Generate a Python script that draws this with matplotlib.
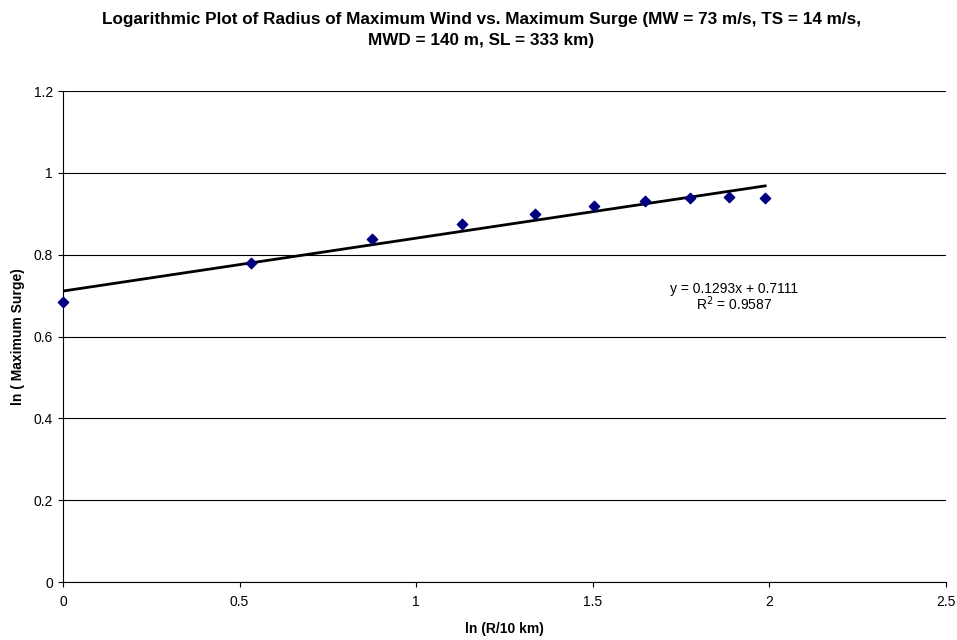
import matplotlib
matplotlib.use("Agg")
import matplotlib.pyplot as plt

plt.rcParams['font.family'] = ['Liberation Sans', 'DejaVu Sans']

# ln(R/10 km) and ln(maximum surge)
ln_r = [0.0, 0.531, 0.875, 1.131, 1.335, 1.504, 1.649, 1.775, 1.887, 1.988]
ln_surge = [0.685, 0.780, 0.838, 0.874, 0.899, 0.919, 0.931, 0.939, 0.940, 0.938]

# linear trend fit
slope = 0.1293
intercept = 0.7111
r_squared = 0.9587

fig = plt.figure(figsize=(9.57, 6.4), dpi=100)
ax = fig.add_axes([0.0658, 0.0906, 0.9227, 0.7672])

ax.set_xlim(0, 2.5)
ax.set_ylim(0, 1.2)
ax.set_xticks([0, 0.5, 1, 1.5, 2, 2.5])
ax.set_xticklabels(['0', '0.5', '1', '1.5', '2', '2.5'])
ax.set_yticks([0, 0.2, 0.4, 0.6, 0.8, 1, 1.2])
ax.set_yticklabels(['0', '0.2', '0.4', '0.6', '0.8', '1', '1.2'])
ax.yaxis.grid(True, color='black', linewidth=0.8)
ax.set_axisbelow(True)
for side in ['top', 'right']:
    ax.spines[side].set_visible(False)
ax.spines['left'].set_linewidth(0.8)
ax.spines['bottom'].set_linewidth(0.8)
ax.tick_params(axis='both', labelsize=10, length=3.6, width=0.8, direction='out')
ax.tick_params(axis='x', pad=6)

# trend line over the data range
x0, x1 = ln_r[0], ln_r[-1]
ax.plot([x0, x1], [slope * x0 + intercept, slope * x1 + intercept],
        color='black', linewidth=2, zorder=2)
ax.scatter(ln_r, ln_surge, marker='D', s=28, color='#000080', zorder=3,
           clip_on=False)

ax.text(1.9, 0.717, 'y = %.4fx + %.4f' % (slope, intercept),
        ha='center', va='center', fontsize=10)
ax.text(1.9, 0.681, 'R$^2$ = %.4f' % r_squared,
        ha='center', va='center', fontsize=10)

ax.set_xlabel('ln (R/10 km)', fontsize=10, fontweight='bold', labelpad=9)
ax.set_ylabel('ln ( Maximum Surge)', fontsize=10, fontweight='bold', labelpad=6)

fig.suptitle('Logarithmic Plot of Radius of Maximum Wind vs. Maximum Surge (MW = 73 m/s, TS = 14 m/s,\n'
             'MWD = 140 m, SL = 333 km)',
             x=0.503, y=0.982, fontsize=12.3, fontweight='bold', linespacing=1.5)

fig.savefig('out.png', dpi=100)
